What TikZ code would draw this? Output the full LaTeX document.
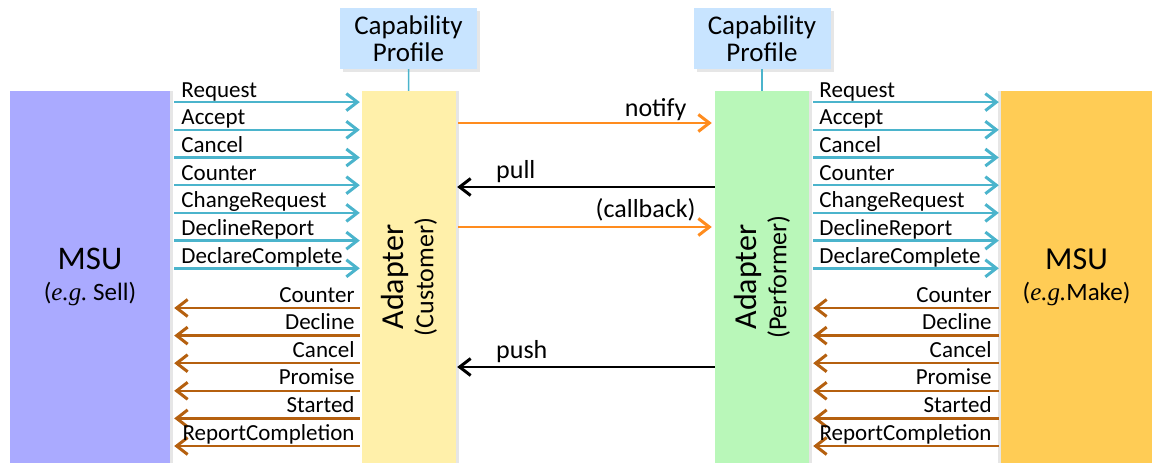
\documentclass[tikz,border=0pt]{standalone}
\usepackage{fontspec}
\setmainfont{Carlito}
\newfontfamily\egfont{Liberation Serif}
\usepackage{tikz}
\usetikzlibrary{arrows.meta,shadows,positioning}

\definecolor{msuviolet}{RGB}{170,170,255}
\definecolor{msuorange}{RGB}{255,204,85}
\definecolor{custyellow}{RGB}{255,240,170}
\definecolor{perfgreen}{RGB}{185,247,185}
\definecolor{profblue}{RGB}{200,228,255}
\definecolor{msgcyan}{RGB}{75,180,204}
\definecolor{msgbrown}{RGB}{181,96,15}
\definecolor{msgorange}{RGB}{255,140,30}

\newcommand{\eg}{{\egfont\itshape e.g.}}

\begin{document}
\begin{tikzpicture}[x=1pt,y=-1pt,
  >={Straight Barb[length=11pt,width=17pt,line width=3pt]},
  side box/.style={rectangle, minimum width=160pt, minimum height=372pt, inner sep=0pt,
    font=\fontsize{25}{31}\selectfont, align=center,
    drop shadow={shadow xshift=3pt, shadow yshift=0pt, opacity=0.2}},
  main box/.style={rectangle, minimum width=94pt, minimum height=372pt, inner sep=0pt,
    drop shadow={shadow xshift=3pt, shadow yshift=0pt, opacity=0.2}},
  profile/.style={rectangle, fill=profblue, minimum width=137pt, minimum height=61pt,
    inner sep=0pt, align=center, font=\fontsize{27}{27}\selectfont,
    drop shadow={shadow xshift=3pt, shadow yshift=-3pt, opacity=0.2}},
  role/.style={rotate=90, align=center, font=\fontsize{26}{30}\selectfont},
  lab/.style={font=\fontsize{23}{27}\selectfont, inner sep=0pt},
  midlab/.style={font=\fontsize{26}{30}\selectfont, inner sep=0pt},
  req/.style={->, draw=msgcyan, line width=2.5pt, shorten <=4pt, shorten >=2pt},
  resp/.style={->, draw=msgbrown, line width=2.5pt, shorten <=2pt, shorten >=4pt},
  notif/.style={->, draw=msgorange, line width=2.5pt, shorten <=2pt, shorten >=3pt},
  fetch/.style={->, draw=black, line width=2pt, shorten >=1pt}]
  \useasboundingbox (0,0) rectangle (1152,463);
  \clip (0,0) rectangle (1152,463);

  \node[side box, fill=msuviolet] (msuL) at (90,277)
    {{\fontsize{33}{35}\selectfont MSU}\\(\eg\ Sell)};
  \node[main box, fill=custyellow] (adC) at (409,277) {};
  \node[main box, fill=perfgreen] (adP) at (762,277) {};
  \node[side box, minimum width=151pt, fill=msuorange,
    drop shadow={shadow xshift=-3pt, shadow yshift=0pt, opacity=0.2}] (msuR) at (1076.5,277)
    {{\fontsize{32}{34}\selectfont MSU}\\(\eg{}Make)};

  \node[role] (adCtext) at (adC) {{\fontsize{32}{34}\selectfont Adapter}\\(Customer)};
  \node[role] (adPtext) at (adP) {{\fontsize{32}{34}\selectfont Adapter}\\(Performer)};

  \node[profile] (profC) at (408.5,38.5) {Capability\\Profile};
  \node[profile] (profP) at (762,38.5) {Capability\\Profile};
  \draw[msgcyan, line width=1.5pt] (profC) -- (adC);
  \draw[msgcyan, line width=1.5pt] (profP) -- (adP);

  % requests from the customer side and to the performer side
  \foreach \lab [count=\i, evaluate=\i as \y using 74.4+27.7*\i] in
    {Request,Accept,Cancel,Counter,ChangeRequest,DeclineReport,DeclareComplete}{
    \draw[req] (msuL.east |- 0,\y) -- (adC.west |- 0,\y)
      node[lab, pos=0, anchor=base west, xshift=10pt, yshift=5pt] {\lab};
    \draw[req] (adP.east |- 0,\y) -- (msuR.west |- 0,\y)
      node[lab, pos=0, anchor=base west, xshift=9pt, yshift=5pt] {\lab};
  }
  % responses
  \foreach \lab [count=\i, evaluate=\i as \y using 280.4+27.6*\i] in
    {Counter,Decline,Cancel,Promise,Started,ReportCompletion}{
    \draw[resp] (adC.west |- 0,\y) -- (msuL.east |- 0,\y)
      node[lab, pos=0, anchor=base east, xshift=-6pt, yshift=6pt] {\lab};
    \draw[resp] (msuR.west |- 0,\y) -- (adP.east |- 0,\y)
      node[lab, pos=0, anchor=base east, xshift=-8pt, yshift=6pt] {\lab};
  }

  % between the adapters
  \draw[notif] (adC.east |- 0,123) -- (adP.west |- 0,123)
    node[midlab, pos=1, anchor=base east, xshift=-27pt, yshift=7pt] {notify};
  \draw[fetch] (adP.west |- 0,187) -- (adC.east |- 0,187)
    node[midlab, pos=1, anchor=base west, xshift=39pt, yshift=9pt] {pull};
  \draw[notif] (adC.east |- 0,227) -- (adP.west |- 0,227)
    node[midlab, pos=1, anchor=base east, xshift=-18pt, yshift=10pt] {(callback)};
  \draw[fetch] (adP.west |- 0,367) -- (adC.east |- 0,367)
    node[midlab, pos=1, anchor=base west, xshift=39pt, yshift=9pt] {push};
\end{tikzpicture}
\end{document}
